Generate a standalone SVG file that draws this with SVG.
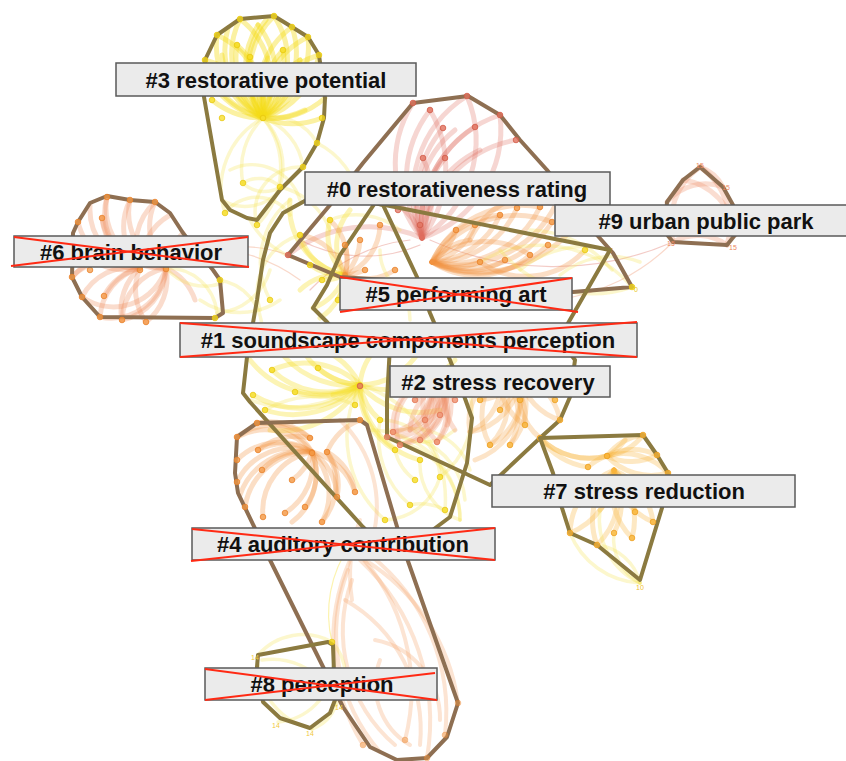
<svg xmlns="http://www.w3.org/2000/svg" width="846" height="761" viewBox="0 0 846 761">
<style>
  .bg { fill: #ffffff; }
  .lk path { fill: none; stroke-linecap: round; }
  .ay path { stroke: #f6de1a; stroke-opacity: .32; stroke-width: 5; }
  .ayd path { stroke: #f5dc16; stroke-opacity: .4; stroke-width: 5; }
  .ayl path { stroke: #f3e24a; stroke-opacity: .28; stroke-width: 3.5; }
  .ao path { stroke: #f39340; stroke-opacity: .3; stroke-width: 5; }
  .a6 path { stroke: #f08a58; stroke-opacity: .3; stroke-width: 5; }
  .a2 path { stroke: #f6a648; stroke-opacity: .3; stroke-width: 5; }
  .aol path { stroke: #f4a66e; stroke-opacity: .3; stroke-width: 4; }
  .as path { stroke: #ee8f68; stroke-opacity: .3; stroke-width: 5; }
  .ar path { stroke: #de6a5c; stroke-opacity: .28; stroke-width: 5; }
  .aa path { stroke: #f7b237; stroke-opacity: .3; stroke-width: 5; }
  .thin path { stroke-width: 1.2; stroke-opacity: .35; }
  .hull { fill: none; stroke-width: 4; stroke-linejoin: round; }
  .hb { stroke: #8e6f52; }
  .hk { stroke: #8b7a40; }
  .nd circle { r: 2.8; fill-opacity: .75; stroke-width: .8; }
  .ny circle { fill: #f5dc20; stroke: #e8c810; }
  .no circle { fill: #f49a45; stroke: #e8812a; }
  .ns circle { fill: #ef9170; stroke: #e27655; }
  .nr circle { fill: #e2735f; stroke: #d25a48; }
  .na circle { fill: #f8b63a; stroke: #eea020; }
  .num { font-family: "Liberation Sans", Arial, sans-serif; font-size: 7px; }
  .lbl rect { fill: #ebebeb; stroke: #5a5a5a; stroke-width: 1.5; }
  .lbl text { font-family: "Liberation Sans", Arial, Helvetica, sans-serif; font-weight: bold; font-size: 22px; fill: #111; text-anchor: middle; }
  .x line { stroke: #ff2a14; stroke-width: 2; }
</style>
<rect class="bg" x="0" y="0" width="846" height="761"/>

<!-- co-citation links, drawn as curved arcs -->
<g id="links" class="lk">
  <!-- cluster 3 fan -->
  <g class="ayd">
    <path d="M263 118A80 80 0 0 1 205 60"/><path d="M263 118A80 80 0 0 1 217 35"/><path d="M263 118A80 80 0 0 1 240 19"/>
    <path d="M263 118A80 80 0 0 1 258 25"/><path d="M263 118A80 80 0 0 1 274 16"/><path d="M263 118A80 80 0 0 1 292 27"/>
    <path d="M263 118A80 80 0 0 1 308 37"/><path d="M263 118A80 80 0 0 1 319 55"/><path d="M263 118A80 80 0 0 1 222 55"/>
    <path d="M263 118A80 80 0 0 1 237 45"/><path d="M263 118A80 80 0 0 1 250 57"/><path d="M263 118A80 80 0 0 1 268 58"/>
    <path d="M263 118A80 80 0 0 1 283 50"/><path d="M263 118A80 80 0 0 1 300 60"/><path d="M263 118A80 80 0 0 1 210 80"/>
    <path d="M263 118A80 80 0 0 1 212 100"/><path d="M263 118A80 80 0 0 1 228 28"/><path d="M263 118A80 80 0 0 1 266 20"/>
    <path d="M263 118A80 80 0 0 0 217 35"/><path d="M263 118A80 80 0 0 0 240 19"/><path d="M263 118A80 80 0 0 0 274 16"/>
    <path d="M263 118A80 80 0 0 0 292 27"/><path d="M263 118A80 80 0 0 0 308 37"/><path d="M263 118A80 80 0 0 0 319 55"/>
    <path d="M263 118A80 80 0 0 0 325 98"/><path d="M263 118A80 80 0 0 0 322 118"/><path d="M263 118A80 80 0 0 0 305 110"/>
    <path d="M263 118A80 80 0 0 0 283 50"/><path d="M263 118A80 80 0 0 0 237 45"/><path d="M263 118A80 80 0 0 0 205 60"/>
    <path d="M263 118A80 80 0 0 0 258 25"/><path d="M263 118A80 80 0 0 0 300 60"/>
  </g>
  <g class="ayl">
    <path d="M263 118A70 70 0 0 0 243 183"/><path d="M263 118A70 70 0 0 1 280 187"/><path d="M263 118A80 80 0 0 0 225 213"/>
    <path d="M263 118A80 80 0 0 1 257 225"/><path d="M263 118A50 50 0 0 1 317 143"/><path d="M263 118A60 60 0 0 1 303 167"/>
    <path d="M243 183A30 30 0 0 1 280 187"/><path d="M243 183A30 30 0 0 0 280 187"/><path d="M225 213A40 40 0 0 1 290 215"/>
    <path d="M230 170A50 50 0 0 1 300 200"/><path d="M222 200A45 45 0 0 0 280 190"/><path d="M257 225A45 45 0 0 1 303 167"/>
    <path d="M280 187A70 70 0 0 1 330 230"/><path d="M250 220A80 80 0 0 0 300 260"/><path d="M317 143A80 80 0 0 1 360 200"/>
  </g>
  <!-- cluster 6 fan -->
  <g class="a6">
    <path d="M140 268A60 60 0 0 1 107 197"/><path d="M140 268A60 60 0 0 1 130 200"/><path d="M140 268A60 60 0 0 1 155 202"/>
    <path d="M140 268A60 60 0 0 1 90 205"/><path d="M140 268A60 60 0 0 1 78 222"/><path d="M140 268A60 60 0 0 1 102 218"/>
    <path d="M140 268A60 60 0 0 1 170 215"/><path d="M140 268A60 60 0 0 1 73 240"/>
    <path d="M166 268A60 60 0 0 1 107 197"/><path d="M166 268A60 60 0 0 1 130 200"/><path d="M166 268A60 60 0 0 1 155 202"/>
    <path d="M166 268A60 60 0 0 1 183 233"/><path d="M166 268A60 60 0 0 1 102 218"/>
    <path d="M140 268A55 55 0 0 0 72 277"/><path d="M140 268A55 55 0 0 0 82 297"/><path d="M140 268A55 55 0 0 0 100 317"/>
    <path d="M140 268A55 55 0 0 0 122 320"/><path d="M140 268A55 55 0 0 0 146 322"/><path d="M140 268A55 55 0 0 0 104 296"/>
    <path d="M166 268A55 55 0 0 1 100 317"/><path d="M166 268A55 55 0 0 1 122 320"/><path d="M166 268A55 55 0 0 1 146 322"/>
    <path d="M166 268A55 55 0 0 1 195 300"/><path d="M166 268A55 55 0 0 1 82 297"/><path d="M166 268A55 55 0 0 0 122 320"/>
    <path d="M166 268A70 70 0 0 0 72 277"/>
  </g>
  <g class="ayl">
    <path d="M166 268A50 50 0 0 0 222 283"/><path d="M166 268A50 50 0 0 1 217 313"/><path d="M218 280A50 50 0 0 1 262 330"/>
    <path d="M200 300A70 70 0 0 0 280 300"/><path d="M217 313A60 60 0 0 0 270 270"/>
  </g>
  <g class="as thin">
    <path d="M166 268A140 140 0 0 1 288 255"/><path d="M183 250A160 160 0 0 1 300 280"/>
  </g>
  <!-- cluster 0 fan -->
  <g class="ar">
    <path d="M422 238A115 115 0 0 1 413 103"/><path d="M422 238A115 115 0 0 1 430 110"/><path d="M422 238A115 115 0 0 1 443 128"/>
    <path d="M422 238A115 115 0 0 1 467 96"/><path d="M422 238A115 115 0 0 1 475 127"/><path d="M422 238A115 115 0 0 1 500 115"/>
    <path d="M422 238A115 115 0 0 1 516 140"/><path d="M422 238A100 100 0 0 1 445 158"/><path d="M422 238A100 100 0 0 1 455 130"/>
    <path d="M422 238A100 100 0 0 1 480 150"/>
    <path d="M422 238A115 115 0 0 0 430 110"/><path d="M422 238A115 115 0 0 0 467 96"/><path d="M422 238A115 115 0 0 0 500 115"/>
    <path d="M422 238A90 90 0 0 0 423 158"/><path d="M422 238A80 80 0 0 0 420 180"/><path d="M422 238A60 60 0 0 0 398 205"/>
    <path d="M422 238A130 130 0 0 0 288 255"/>
  </g>
  <g class="ar thin">
    <path d="M420 245A140 140 0 0 1 300 240"/><path d="M410 240A160 160 0 0 0 310 290"/><path d="M430 240A300 300 0 0 0 673 242"/>
  </g>
  <g class="ao">
    <path d="M432 262A60 60 0 0 0 456 230"/><path d="M432 262A60 60 0 0 0 475 225"/><path d="M432 262A80 80 0 0 0 500 215"/>
    <path d="M432 262A90 90 0 0 0 517 208"/><path d="M432 262A100 100 0 0 0 540 207"/><path d="M432 262A100 100 0 0 0 552 222"/>
    <path d="M432 262A100 100 0 0 0 548 245"/><path d="M432 262A80 80 0 0 0 530 255"/><path d="M432 262A70 70 0 0 0 505 260"/>
    <path d="M432 262A60 60 0 0 0 480 262"/><path d="M432 262A110 110 0 0 0 560 195"/><path d="M432 262A120 120 0 0 0 585 210"/>
    <path d="M432 262A80 80 0 0 1 500 215"/><path d="M432 262A100 100 0 0 1 540 207"/><path d="M432 262A100 100 0 0 1 552 222"/>
    <path d="M432 262A80 80 0 0 1 530 255"/><path d="M432 262A60 60 0 0 1 470 240"/>
    <path d="M470 240A80 80 0 0 1 560 195"/><path d="M480 262A80 80 0 0 0 585 250"/>
  </g>
  <g class="ayl">
    <path d="M480 262A120 120 0 0 1 632 287"/><path d="M520 270A100 100 0 0 1 610 250"/><path d="M500 250A120 120 0 0 0 632 287"/>
    <path d="M560 275A80 80 0 0 1 640 262"/><path d="M530 230A110 110 0 0 1 612 270"/>
  </g>
  <!-- cluster 5 mixed fan -->
  <g class="ay">
    <path d="M345 275A55 55 0 0 1 300 235"/><path d="M345 275A55 55 0 0 1 310 265"/><path d="M345 275A55 55 0 0 1 322 280"/>
    <path d="M345 275A55 55 0 0 1 338 300"/><path d="M345 275A70 70 0 0 1 290 200"/><path d="M345 275A55 55 0 0 1 330 220"/>
    <path d="M345 275A55 55 0 0 1 350 210"/><path d="M345 275A55 55 0 0 1 313 308"/><path d="M345 275A55 55 0 0 1 320 318"/>
    <path d="M345 275A55 55 0 0 0 395 300"/><path d="M345 275A55 55 0 0 0 300 290"/>
  </g>
  <g class="ao">
    <path d="M345 275A55 55 0 0 0 345 245"/><path d="M345 275A55 55 0 0 0 360 240"/><path d="M345 275A55 55 0 0 0 380 225"/>
    <path d="M345 275A55 55 0 0 0 365 270"/><path d="M345 275A55 55 0 0 0 395 270"/><path d="M345 275A55 55 0 0 0 330 220"/>
    <path d="M345 275A55 55 0 0 0 300 235"/>
  </g>
  <g class="ayl">
    <path d="M400 290A50 50 0 0 1 410 320"/><path d="M400 290A50 50 0 0 0 440 300"/><path d="M400 290A50 50 0 0 1 380 250"/>
    <path d="M290 200A80 80 0 0 0 270 300"/><path d="M300 235A60 60 0 0 0 260 310"/><path d="M330 220A70 70 0 0 1 400 230"/>
  </g>
  <!-- cluster 1 fan -->
  <g class="ay">
    <path d="M360 385A80 80 0 0 1 272 370"/><path d="M360 385A80 80 0 0 1 295 392"/><path d="M360 385A70 70 0 0 1 318 368"/>
    <path d="M360 385A90 90 0 0 1 253 395"/><path d="M360 385A90 90 0 0 1 265 410"/><path d="M360 385A70 70 0 0 1 300 345"/>
    <path d="M360 385A90 90 0 0 1 275 345"/><path d="M360 385A90 90 0 0 1 250 360"/><path d="M360 385A60 60 0 0 1 333 395"/>
    <path d="M360 385A60 60 0 0 1 380 345"/>
    <path d="M360 385A60 60 0 0 0 355 405"/><path d="M360 385A60 60 0 0 0 380 420"/><path d="M360 385A70 70 0 0 0 395 450"/>
    <path d="M360 385A80 80 0 0 0 420 460"/><path d="M360 385A70 70 0 0 0 300 345"/><path d="M360 385A70 70 0 0 0 420 350"/>
    <path d="M360 385A90 90 0 0 0 455 360"/><path d="M360 385A80 80 0 0 0 272 370"/><path d="M360 385A90 90 0 0 1 270 430"/>
    <path d="M360 385A80 80 0 0 0 440 410"/>
  </g>
  <g class="ayl">
    <path d="M380 420A60 60 0 0 1 440 477"/><path d="M395 450A50 50 0 0 0 415 480"/><path d="M390 440A80 80 0 0 1 460 520"/>
    <path d="M410 505A50 50 0 0 1 445 510"/><path d="M385 520A60 60 0 0 0 440 477"/><path d="M420 460A60 60 0 0 0 460 520"/>
    <path d="M400 430A60 60 0 0 1 470 470"/><path d="M360 385A110 110 0 0 0 385 520"/><path d="M360 385A120 120 0 0 1 445 510"/>
    <path d="M390 430A50 50 0 0 0 455 430"/><path d="M420 440A70 70 0 0 1 465 500"/><path d="M370 430A90 90 0 0 1 460 520"/>
    <path d="M380 420A90 90 0 0 0 410 505"/><path d="M440 477A80 80 0 0 0 470 395"/><path d="M250 400A120 120 0 0 0 360 385"/>
    <path d="M265 410A100 100 0 0 1 355 405"/>
  </g>
  <!-- cluster 2 fans -->
  <g class="as">
    <path d="M432 378A50 50 0 0 1 415 400"/><path d="M432 378A50 50 0 0 1 425 420"/><path d="M432 378A50 50 0 0 1 440 415"/>
    <path d="M432 378A50 50 0 0 1 455 400"/><path d="M432 378A50 50 0 0 1 437 442"/><path d="M432 378A50 50 0 0 1 420 440"/>
    <path d="M432 378A50 50 0 0 1 400 445"/><path d="M432 378A50 50 0 0 1 410 430"/><path d="M432 378A50 50 0 0 1 393 432"/>
    <path d="M432 378A50 50 0 0 1 447 425"/>
    <path d="M432 378A50 50 0 0 0 415 400"/><path d="M432 378A50 50 0 0 0 437 442"/><path d="M432 378A50 50 0 0 0 400 445"/>
    <path d="M432 378A50 50 0 0 0 393 432"/>
    <path d="M446 382A55 55 0 0 1 400 445"/><path d="M446 382A55 55 0 0 1 420 440"/><path d="M446 382A55 55 0 0 1 437 442"/>
    <path d="M446 382A55 55 0 0 1 393 432"/><path d="M446 382A55 55 0 0 0 425 420"/><path d="M446 382A55 55 0 0 0 410 430"/>
    <path d="M446 382A55 55 0 0 1 387 437"/><path d="M446 382A55 55 0 0 0 455 430"/>
  </g>
  <g class="a2">
    <path d="M500 372A55 55 0 0 1 480 400"/><path d="M500 372A55 55 0 0 1 500 410"/><path d="M500 372A55 55 0 0 1 520 400"/>
    <path d="M500 372A55 55 0 0 1 535 392"/><path d="M500 372A55 55 0 0 1 545 375"/><path d="M500 372A60 60 0 0 1 560 420"/>
    <path d="M500 372A60 60 0 0 1 510 445"/><path d="M500 372A60 60 0 0 1 490 445"/><path d="M500 372A55 55 0 0 1 525 425"/>
    <path d="M500 372A55 55 0 0 1 470 432"/><path d="M500 372A55 55 0 0 1 555 400"/>
    <path d="M500 372A60 60 0 0 0 490 445"/><path d="M500 372A55 55 0 0 0 525 425"/><path d="M500 372A55 55 0 0 0 470 432"/>
    <path d="M520 378A60 60 0 0 1 490 445"/><path d="M520 378A60 60 0 0 1 510 445"/><path d="M520 378A60 60 0 0 1 470 432"/>
    <path d="M520 378A60 60 0 0 1 480 400"/><path d="M520 378A60 60 0 0 0 560 420"/><path d="M520 378A60 60 0 0 0 540 438"/>
    <path d="M520 378A60 60 0 0 1 500 410"/><path d="M520 378A70 70 0 0 1 475 460"/>
  </g>
  <!-- cluster 7 fan -->
  <g class="aa">
    <path d="M607 456A55 55 0 0 0 643 435"/><path d="M607 456A55 55 0 0 0 657 455"/><path d="M607 456A60 60 0 0 0 668 473"/>
    <path d="M607 456A50 50 0 0 0 625 440"/><path d="M607 456A50 50 0 0 0 588 467"/>
    <path d="M607 456A55 55 0 0 1 643 435"/><path d="M607 456A55 55 0 0 1 657 455"/><path d="M607 456A60 60 0 0 1 668 473"/>
    <path d="M607 456A70 70 0 0 1 540 438"/><path d="M540 438A70 70 0 0 0 607 456"/><path d="M540 438A70 70 0 0 0 588 467"/>
    <path d="M614 470A70 70 0 0 1 570 533"/><path d="M614 470A70 70 0 0 1 597 545"/><path d="M614 470A70 70 0 0 1 614 533"/>
    <path d="M614 470A70 70 0 0 1 632 538"/><path d="M614 470A60 60 0 0 1 635 512"/><path d="M614 470A65 65 0 0 1 653 522"/>
    <path d="M614 470A60 60 0 0 1 600 510"/><path d="M614 470A60 60 0 0 1 580 505"/>
    <path d="M614 470A70 70 0 0 0 632 538"/><path d="M614 470A65 65 0 0 0 653 522"/><path d="M614 470A70 70 0 0 0 570 533"/>
    <path d="M614 470A70 70 0 0 0 597 545"/>
  </g>
  <g class="ayl">
    <path d="M614 533A50 50 0 0 0 640 583"/><path d="M597 545A50 50 0 0 1 640 583"/><path d="M600 510A70 70 0 0 0 640 583"/>
    <path d="M570 533A80 80 0 0 0 640 583"/>
  </g>
  <!-- cluster 4 fan -->
  <g class="ao">
    <path d="M312 452A60 60 0 0 0 237 437"/><path d="M312 452A60 60 0 0 0 257 423"/><path d="M312 452A55 55 0 0 0 258 450"/>
    <path d="M312 452A60 60 0 0 0 237 460"/><path d="M312 452A55 55 0 0 0 262 470"/><path d="M312 452A60 60 0 0 0 237 482"/>
    <path d="M312 452A65 65 0 0 0 240 495"/><path d="M312 452A65 65 0 0 0 245 507"/><path d="M312 452A60 60 0 0 0 263 517"/>
    <path d="M312 452A50 50 0 0 1 292 480"/><path d="M312 452A60 60 0 0 1 285 513"/><path d="M312 452A55 55 0 0 1 305 507"/>
    <path d="M312 452A55 55 0 0 1 337 497"/><path d="M312 452A60 60 0 0 1 355 492"/><path d="M312 452A60 60 0 0 1 322 522"/>
    <path d="M312 452A60 60 0 0 1 292 522"/>
    <path d="M327 452A55 55 0 0 1 355 492"/><path d="M327 452A55 55 0 0 1 337 497"/><path d="M327 452A60 60 0 0 1 322 522"/>
    <path d="M327 452A60 60 0 0 1 360 420"/>
    <path d="M310 438A60 60 0 0 0 257 423"/><path d="M310 438A60 60 0 0 0 237 437"/><path d="M310 438A60 60 0 0 0 258 450"/>
  </g>
  <g class="aol">
    <path d="M350 560A200 200 0 0 0 363 745"/><path d="M355 550A200 200 0 0 1 405 740"/><path d="M360 560A220 220 0 0 1 427 758"/>
    <path d="M370 555A200 200 0 0 1 445 735"/><path d="M365 560A200 200 0 0 1 458 703"/><path d="M352 580A150 150 0 0 0 395 745"/>
    <path d="M345 600A150 150 0 0 1 420 745"/><path d="M348 570A180 180 0 0 0 380 752"/><path d="M360 520A160 160 0 0 0 352 600"/>
    <path d="M340 420A120 120 0 0 1 372 540"/><path d="M375 640A80 80 0 0 1 440 720"/><path d="M380 660A70 70 0 0 0 410 745"/>
  </g>
  <g class="ay thin">
    <path d="M332 642A120 120 0 0 1 350 545"/>
  </g>
  <!-- cluster 8 links -->
  <g class="ayl">
    <path d="M258 655A60 60 0 0 1 332 642"/><path d="M332 642A50 50 0 0 1 336 705"/><path d="M278 722A60 60 0 0 0 333 667"/>
    <path d="M312 729A40 40 0 0 0 336 705"/><path d="M258 665A70 70 0 0 0 312 729"/><path d="M262 660A70 70 0 0 1 330 690"/>
  </g>
  <!-- cluster 9 links -->
  <g class="as">
    <path d="M700 167A40 40 0 0 1 723 187"/><path d="M700 167A70 70 0 0 0 673 242"/><path d="M700 167A70 70 0 0 1 727 245"/>
    <path d="M683 180A60 60 0 0 1 735 235"/><path d="M667 202A50 50 0 0 1 723 187"/><path d="M673 242A50 50 0 0 1 727 245"/>
  </g>
  <g class="as thin">
    <path d="M673 242A200 200 0 0 1 555 300"/>
  </g>
</g>

<!-- cluster hulls and member nodes -->
<g id="cluster-3">
  <polygon class="hull hk" points="205,60 217,35 240,19 274,16 292,27 308,37 319,55 325,98 324,118 317,143 303,167 280,190 267,207 257,220 247,218 230,210 222,200 204,97"/>
  <g class="nd ny">
    <circle cx="205" cy="60"/><circle cx="217" cy="35"/><circle cx="240" cy="19"/><circle cx="274" cy="16"/><circle cx="292" cy="27"/>
    <circle cx="308" cy="37"/><circle cx="319" cy="55"/><circle cx="237" cy="45"/><circle cx="250" cy="57"/><circle cx="283" cy="50"/>
    <circle cx="212" cy="100"/><circle cx="222" cy="118"/><circle cx="263" cy="118"/><circle cx="322" cy="118"/><circle cx="317" cy="143"/>
    <circle cx="303" cy="167"/><circle cx="243" cy="183"/><circle cx="280" cy="187"/><circle cx="225" cy="213"/><circle cx="257" cy="225"/>
  </g>
</g>
<g id="cluster-6">
  <polygon class="hull hb" points="90,203 107,196 130,200 155,202 170,213 183,233 213,270 220,280 223,313 215,318 100,317 82,297 72,277 73,233 78,222"/>
  <g class="nd no">
    <circle cx="107" cy="197"/><circle cx="130" cy="200"/><circle cx="155" cy="202"/><circle cx="78" cy="222"/><circle cx="102" cy="218"/>
    <circle cx="140" cy="270"/><circle cx="166" cy="269"/><circle cx="72" cy="277"/><circle cx="82" cy="297"/><circle cx="100" cy="317"/>
    <circle cx="122" cy="320"/><circle cx="146" cy="322"/><circle cx="104" cy="296"/><circle cx="90" cy="270"/>
  </g>
  <g class="nd ny"><circle cx="220" cy="280"/><circle cx="215" cy="318"/></g>
</g>
<g id="cluster-0">
  <polygon class="hull hb" points="288,255 330,205 363,163 413,103 468,96 500,115 520,140 547,170 597,235 613,253 632,287 573,292 340,277"/>
  <g class="nd nr">
    <circle cx="413" cy="103"/><circle cx="430" cy="110"/><circle cx="443" cy="128"/><circle cx="467" cy="96"/><circle cx="475" cy="127"/>
    <circle cx="500" cy="115"/><circle cx="516" cy="140"/><circle cx="445" cy="158"/><circle cx="423" cy="158"/><circle cx="398" cy="210"/>
    <circle cx="420" cy="225"/><circle cx="288" cy="255"/>
  </g>
  <g class="nd no">
    <circle cx="456" cy="230"/><circle cx="475" cy="225"/><circle cx="500" cy="215"/><circle cx="517" cy="208"/><circle cx="540" cy="207"/>
    <circle cx="552" cy="222"/><circle cx="548" cy="245"/><circle cx="530" cy="255"/><circle cx="505" cy="260"/><circle cx="480" cy="262"/>
    <circle cx="560" cy="195"/><circle cx="585" cy="210"/>
  </g>
  <g class="nd ny"><circle cx="632" cy="287"/><circle cx="585" cy="250"/></g>
  <text class="num" x="609" y="253" fill="#e8b020">7</text>
  <text class="num" x="634" y="292" fill="#e8c810">0</text>
</g>
<g id="cluster-1">
  <polygon class="hull hk" points="310,198 283,213 270,233 263,260 257,300 247,357 243,393 250,402 363,527 372,536 430,532 450,517 467,463 472,418 463,393 450,360 430,313 417,277 383,205 345,196"/>
  <g class="nd ny">
    <circle cx="272" cy="370"/><circle cx="295" cy="392"/><circle cx="318" cy="368"/><circle cx="253" cy="395"/><circle cx="265" cy="410"/>
    <circle cx="355" cy="405"/><circle cx="380" cy="420"/><circle cx="395" cy="450"/><circle cx="420" cy="460"/><circle cx="440" cy="477"/>
    <circle cx="415" cy="480"/><circle cx="385" cy="520"/><circle cx="410" cy="505"/><circle cx="445" cy="510"/><circle cx="300" cy="235"/>
    <circle cx="310" cy="265"/><circle cx="322" cy="280"/><circle cx="338" cy="300"/><circle cx="330" cy="220"/><circle cx="270" cy="300"/>
  </g>
  <g class="nd nr"><circle cx="360" cy="386"/></g>
</g>
<g id="cluster-5">
  <polygon class="hull hk" points="375,203 610,250 567,325 545,347 340,336 327,322 313,308 327,285 340,255"/>
  <g class="nd no">
    <circle cx="345" cy="245"/><circle cx="360" cy="240"/><circle cx="380" cy="225"/><circle cx="365" cy="270"/><circle cx="395" cy="270"/>
  </g>
</g>
<g id="cluster-2">
  <polygon class="hull hk" points="390,345 560,340 575,360 570,397 560,420 540,438 490,485 387,437 387,400"/>
  <g class="nd ns">
    <circle cx="415" cy="400"/><circle cx="425" cy="420"/><circle cx="440" cy="415"/><circle cx="455" cy="400"/><circle cx="437" cy="442"/>
    <circle cx="420" cy="440"/><circle cx="400" cy="445"/><circle cx="393" cy="432"/><circle cx="387" cy="437"/>
  </g>
  <g class="nd na">
    <circle cx="480" cy="400"/><circle cx="500" cy="410"/><circle cx="520" cy="400"/><circle cx="535" cy="392"/><circle cx="560" cy="420"/>
    <circle cx="510" cy="445"/><circle cx="490" cy="445"/><circle cx="525" cy="425"/><circle cx="555" cy="400"/><circle cx="540" cy="438"/>
  </g>
</g>
<g id="cluster-7">
  <polygon class="hull hk" points="540,438 643,435 657,455 668,473 662,508 640,580 597,545 570,533 562,508 553,473"/>
  <g class="nd na">
    <circle cx="607" cy="456"/><circle cx="588" cy="467"/><circle cx="643" cy="435"/><circle cx="657" cy="455"/><circle cx="668" cy="473"/>
    <circle cx="570" cy="533"/><circle cx="597" cy="545"/><circle cx="614" cy="533"/><circle cx="632" cy="538"/><circle cx="635" cy="512"/>
    <circle cx="653" cy="522"/>
  </g>
  <text class="num" x="636" y="590" fill="#f0c030">10</text>
</g>
<g id="cluster-4">
  <polygon class="hull hb" points="237,437 257,423 360,420 367,425 403,547 458,703 447,737 427,758 397,760 370,747 343,707 270,560 238,493 235,473"/>
  <g class="nd no">
    <circle cx="310" cy="438"/><circle cx="312" cy="453"/><circle cx="327" cy="452"/><circle cx="237" cy="437"/><circle cx="257" cy="423"/>
    <circle cx="258" cy="450"/><circle cx="237" cy="460"/><circle cx="262" cy="470"/><circle cx="237" cy="482"/><circle cx="292" cy="480"/>
    <circle cx="245" cy="507"/><circle cx="263" cy="517"/><circle cx="285" cy="513"/><circle cx="305" cy="507"/><circle cx="337" cy="497"/>
    <circle cx="355" cy="492"/><circle cx="322" cy="522"/><circle cx="360" cy="420"/>
  </g>
  <g class="nd no" style="opacity:.6">
    <circle cx="363" cy="745"/><circle cx="405" cy="740"/><circle cx="427" cy="758"/><circle cx="445" cy="735"/><circle cx="458" cy="703"/>
  </g>
</g>
<g id="cluster-8">
  <polygon class="hull hk" points="258,655 328,642 333,645 335,700 330,713 310,728 280,718 263,702 257,667"/>
  <g class="nd ny"><circle cx="332" cy="642"/></g>
  <text class="num" x="251" y="660" fill="#f0c840">14</text>
  <text class="num" x="272" y="728" fill="#f0c840">14</text>
  <text class="num" x="306" y="736" fill="#f0c840">14</text>
  <text class="num" x="335" y="710" fill="#f0c840">14</text>
</g>
<g id="cluster-9">
  <polygon class="hull hb" points="700,167 723,187 733,205 735,235 727,245 673,242 665,232 667,202 683,180"/>
  <text class="num" x="696" y="168" fill="#ec8860">15</text>
  <text class="num" x="722" y="190" fill="#ec8860">15</text>
  <text class="num" x="729" y="250" fill="#ec8860">15</text>
  <text class="num" x="667" y="246" fill="#ec8860">15</text>
</g>

<!-- cluster labels -->
<g id="label-3" class="lbl"><rect x="116" y="63" width="300" height="33"/><text x="266" y="88">#3 restorative potential</text></g>
<g id="label-0" class="lbl"><rect x="305" y="172" width="305" height="33"/><text x="457" y="197">#0 restorativeness rating</text></g>
<g id="label-9" class="lbl"><rect x="555" y="205" width="295" height="31"/><text x="706" y="229">#9 urban public park</text></g>
<g id="label-6" class="lbl"><rect x="14" y="236" width="234" height="31"/><text x="131" y="260">#6 brain behavior</text>
  <g class="x"><line x1="14" y1="237" x2="249" y2="267"/><line x1="11" y1="266" x2="248" y2="237"/></g></g>
<g id="label-5" class="lbl"><rect x="340" y="278" width="232" height="32"/><text x="456" y="302">#5 performing art</text>
  <g class="x"><line x1="340" y1="277" x2="578" y2="312"/><line x1="340" y1="312" x2="572" y2="278"/></g></g>
<g id="label-1" class="lbl"><rect x="180" y="323" width="457" height="34"/><text x="408" y="348">#1 soundscape components perception</text>
  <g class="x"><line x1="180" y1="323" x2="637" y2="357"/><line x1="180" y1="357" x2="637" y2="322"/></g></g>
<g id="label-2" class="lbl"><rect x="390" y="366" width="220" height="31"/><text x="498" y="390">#2 stress recovery</text></g>
<g id="label-7" class="lbl"><rect x="492" y="475" width="303" height="32"/><text x="644" y="499">#7 stress reduction</text></g>
<g id="label-4" class="lbl"><rect x="192" y="528" width="303" height="32"/><text x="343" y="552">#4 auditory contribution</text>
  <g class="x"><line x1="192" y1="529" x2="495" y2="560"/><line x1="191" y1="561" x2="495" y2="528"/></g></g>
<g id="label-8" class="lbl"><rect x="205" y="668" width="232" height="32"/><text x="322" y="692">#8 perception</text>
  <g class="x"><line x1="205" y1="669" x2="437" y2="700"/><line x1="205" y1="700" x2="435" y2="673"/></g></g>
</svg>
